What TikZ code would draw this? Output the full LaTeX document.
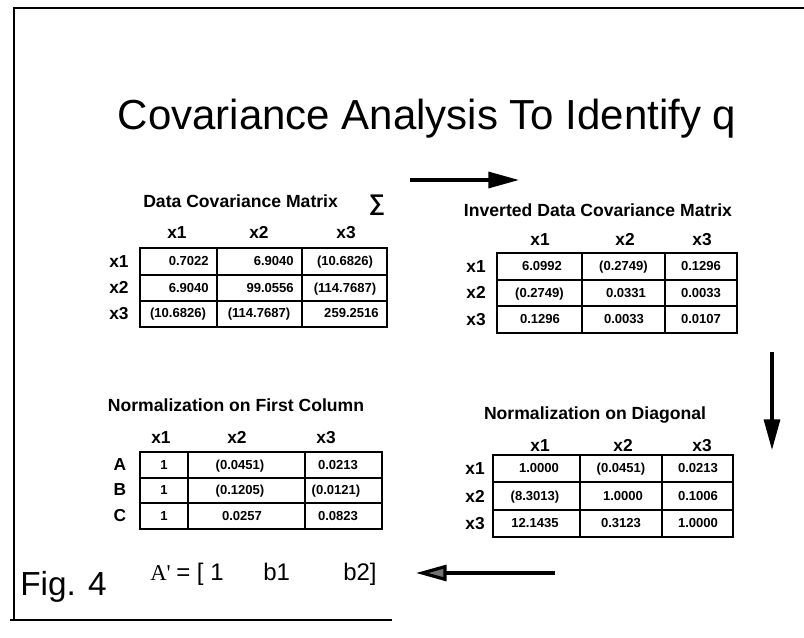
\documentclass[tikz,border=0pt]{standalone}
\usepackage{fontspec}
\setmainfont{Liberation Sans}
\newfontfamily\serifA{Liberation Serif}
\usetikzlibrary{arrows.meta}
\tikzset{
  grid/.style={line width=1.1pt},
  frame/.style={line width=0.8pt},
  num/.style={inner sep=0pt, anchor=base, font=\bfseries\fontsize{9.8}{11}\selectfont},
  hdr/.style={inner sep=0pt, anchor=base, font=\bfseries\fontsize{13}{15}\selectfont},
  ttl/.style={inner sep=0pt, font=\bfseries\fontsize{13.2}{15}\selectfont},
  bigarrow/.style={line width=2.4pt, -{Triangle[length=23pt,width=12pt]}},
}
\begin{document}
\begin{tikzpicture}[x=0.75pt,y=-0.75pt]
\useasboundingbox (0,0) rectangle (804,638);
% frame
\draw[frame] (804,8) -- (14,8) -- (14,620);
\draw[frame] (10,620) -- (392,620);
% title
\node[inner sep=0pt, font=\fontsize{31.5}{36}\selectfont] (title) at (427,119) {Covariance Analysis To Identify q};

% ---------- table 1 ----------
\node[ttl, anchor=west] (t1) at (143,201) {Data Covariance Matrix};
\node[inner sep=0pt, font=\bfseries\fontsize{17}{18}\selectfont] (sig) at (377,205) {∑};
\node[hdr] (t1h1) at (177,239) {x1};
\node[hdr] (t1h2) at (259,239) {x2};
\node[hdr] (t1h3) at (346,239) {x3};
\draw[grid] (140,248) rectangle (387,327);
\draw[grid] (217,248) -- (217,327) (302,248) -- (302,327) (140,275) -- (387,275) (140,301) -- (387,301);
\node[hdr] (t1r1) at (119,267.5) {x1};
\node[hdr] (t1r2) at (119,294) {x2};
\node[hdr] (t1r3) at (119,320) {x3};
\node[num, anchor=base east] (a11) at (209,265.5) {0.7022};
\node[num, anchor=base east] (a12) at (294,265.5) {6.9040};
\node[num] (a13) at (345,265.5) {(10.6826)};
\node[num, anchor=base east] (a21) at (209,292) {6.9040};
\node[num, anchor=base east] (a22) at (294,292) {99.0556};
\node[num] (a23) at (345,292) {(114.7687)};
\node[num] (a31) at (178,318) {(10.6826)};
\node[num] (a32) at (259,318) {(114.7687)};
\node[num, anchor=base east] (a33) at (379,318) {259.2516};

% ---------- table 2 ----------
\node[ttl] (t2) at (598,210) {Inverted Data Covariance Matrix};
\node[hdr] (t2h1) at (540,246) {x1};
\node[hdr] (t2h2) at (625,246) {x2};
\node[hdr] (t2h3) at (702,246) {x3};
\draw[grid] (497,253) rectangle (737,333);
\draw[grid] (582,253) -- (582,333) (665,253) -- (665,333) (497,280) -- (737,280) (497,306) -- (737,306);
\node[hdr] (t2r1) at (476,272.5) {x1};
\node[hdr] (t2r2) at (476,299) {x2};
\node[hdr] (t2r3) at (476,325.5) {x3};
\node[num] (b11) at (542,270.5) {6.0992};
\node[num] (b12) at (623.5,270.5) {(0.2749)};
\node[num] (b13) at (701,270.5) {0.1296};
\node[num] (b21) at (539.5,297) {(0.2749)};
\node[num] (b22) at (626,297) {0.0331};
\node[num] (b23) at (701,297) {0.0033};
\node[num] (b31) at (540,323.5) {0.1296};
\node[num] (b32) at (624,323.5) {0.0033};
\node[num] (b33) at (701,323.5) {0.0107};

% ---------- table 3 ----------
\node[ttl] (t3) at (236,405) {Normalization on First Column};
\node[hdr] (t3h1) at (161,443) {x1};
\node[hdr] (t3h2) at (237,443) {x2};
\node[hdr] (t3h3) at (326,443) {x3};
\draw[grid] (140,452) rectangle (382,529);
\draw[grid] (188,452) -- (188,529) (305,452) -- (305,529) (140,478) -- (382,478) (140,503) -- (382,503);
\node[hdr] (t3r1) at (120,470) {A};
\node[hdr] (t3r2) at (120,495.5) {B};
\node[hdr] (t3r3) at (120,521) {C};
\node[num] (c11) at (164,469) {1};
\node[num] (c12) at (240,469) {(0.0451)};
\node[num] (c13) at (338,469) {0.0213};
\node[num] (c21) at (164,494.5) {1};
\node[num] (c22) at (240,494.5) {(0.1205)};
\node[num] (c23) at (336,494.5) {(0.0121)};
\node[num] (c31) at (164,520) {1};
\node[num] (c32) at (242,520) {0.0257};
\node[num] (c33) at (338,520) {0.0823};

% ---------- table 4 ----------
\node[ttl] (t4) at (595,415) {Normalization on Diagonal};
\node[hdr] (t4h1) at (540,451) {x1};
\node[hdr] (t4h2) at (623,451) {x2};
\node[hdr] (t4h3) at (702,451) {x3};
\draw[grid] (493,455) rectangle (733,537);
\draw[grid] (580,455) -- (580,537) (662,455) -- (662,537) (493,482) -- (733,482) (493,510) -- (733,510);
\node[hdr] (t4r1) at (475,474.5) {x1};
\node[hdr] (t4r2) at (475,502) {x2};
\node[hdr] (t4r3) at (475,529.5) {x3};
\node[num] (d11) at (539,472.5) {1.0000};
\node[num] (d12) at (621,472.5) {(0.0451)};
\node[num] (d13) at (698,472.5) {0.0213};
\node[num] (d21) at (535,500) {(8.3013)};
\node[num] (d22) at (623,500) {1.0000};
\node[num] (d23) at (698,500) {0.1006};
\node[num] (d31) at (535,527.5) {12.1435};
\node[num] (d32) at (621,527.5) {0.3123};
\node[num] (d33) at (698,527.5) {1.0000};

% ---------- arrows ----------
\coordinate (ta0) at (410,180);
\coordinate (ta1) at (519,180);
\draw[bigarrow] (ta0) -- (ta1);
\coordinate (da0) at (772,352);
\coordinate (da1) at (772,450);
\draw[bigarrow] (da0) -- (da1);

% ---------- bottom line ----------
\node[inner sep=0pt, anchor=base west, font=\fontsize{25}{28}\selectfont] (fig) at (20,595) {Fig. 4};
\node[inner sep=0pt, anchor=base west, font=\serifA\fontsize{17}{20}\selectfont] (ap) at (150,580) {A'};
\node[inner sep=0pt, anchor=base west, font=\fontsize{18}{20}\selectfont] (eq) at (176,580) {= [ 1};
\node[inner sep=0pt, anchor=base west, font=\fontsize{18}{20}\selectfont] (bb1) at (263,580) {b1};
\node[inner sep=0pt, anchor=base west, font=\fontsize{18}{20}\selectfont] (bb2) at (343,580) {b2]};
\coordinate (ba0) at (555,573);
\coordinate (ba1) at (416,573);
\draw[line width=2.4pt, -{Triangle[length=23pt,width=12pt,fill=black!55]}] (ba0) -- (ba1);
\end{tikzpicture}
\end{document}
